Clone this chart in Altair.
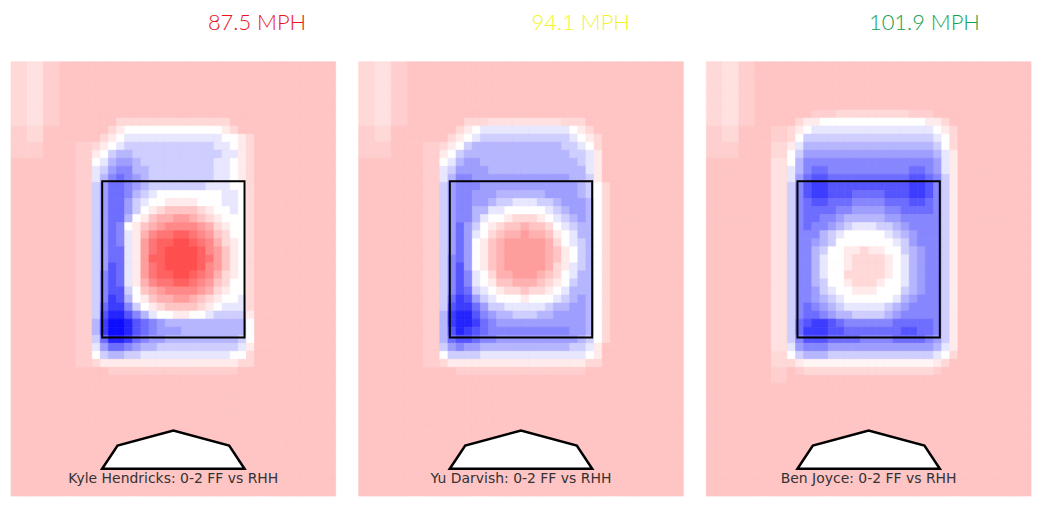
import altair as alt
import pandas as pd

# ---- data -------------------------------------------------------------
pitchers = ["Kyle Hendricks", "Yu Darvish", "Ben Joyce"]
speeds = ["87.5 MPH", "94.1 MPH", "101.9 MPH"]
speed_colors = ["#e8141e", "#f4f41e", "#16a04e"]
captions = [p + ": 0-2 FF vs RHH" for p in pitchers]
title_dx = [84, 60, 56]

# background value grid, 27 rows x 20 cols (top->bottom); -10 deep blue, 0 white, +10 deep red
bg_12 = [
    [2,1.5,2.5,3,3,3,3,3,3,3,3,3,3,3,3,3,3,3,3,3],
    [2,1.5,2.5,3,3,3,3,3,3,3,3,3,3,3,3,3,3,3,3,3],
    [2,1.5,2.5,3,3,3,3,3,3,3,3,3,3,3,3,3,3,3,3,3],
    [2,1.5,2.5,3,3,3,3,3,3,3,3,3,3,3,3,3,3,3,3,3],
    [2.5,2,3,3,3,3,3,3,3,3,3,3,3,3,3,3,3,3,3,3],
    [2.5,2.5,3,3,2.5,3,3,3,3,3,3,3,3,3,3,3,3,3,3,3],
    [3,3,3,3,2.5,3,3,3,3,3,3,3,3,3,3,3,3,3,3,3],
    [3,3,3,3,2.5,3,3,3,3,3,3,3,3,3,3,3,3,3,3,3],
    [3,3,3,3,2.5,3,3,3,3,3,3,3,3,3,3,3,3,3,3,3],
    [3,3,3,3,2.5,3,3,3,3,3,3,3,3,3,3,3,3,3,3,3],
    [3,3,3,3,2.5,3,3,3,3,3,3,3,3,3,3,3,3,3,3,3],
    [3,3,3,3,2.5,3,3,3,3,3,3,3,3,3,3,3,3,3,3,3],
    [3,3,3,3,2.5,3,3,3,3,3,3,3,3,3,3,3,3,3,3,3],
    [3,3,3,3,2.5,3,3,3,3,3,3,3,3,3,3,3,3,3,3,3],
    [3,3,3,3,2.5,3,3,3,3,3,3,3,3,3,3,3,3,3,3,3],
    [3,3,3,3,2.5,3,3,3,3,3,3,3,3,3,3,3,3,3,3,3],
    [3,3,3,3,2.5,3,3,3,3,3,3,3,3,3,3,3,3,3,3,3],
    [3,3,3,3,2.5,3,3,3,3,3,3,3,3,3,3,3,3,3,3,3],
    [3,3,3,3,2.5,3,3,3,3,3,3,3,3,3,3,3,3,3,3,3],
    [3,3,3,3,3,3,3,3,3,3,3,3,3,3,3,3,3,3,3,3],
    [3,3,3,3,3,3,3,3,3,3,3,3,3,3,3,3,3,3,3,3],
    [3,3,3,3,3,3,3,3,3,3,3,3,3,3,3,3,3,3,3,3],
    [3,3,3,3,3,3,3,3,3,3,3,3,3,3,3,3,3,3,3,3],
    [3,3,3,3,3,3,3,3,3,3,3,3,3,3,3,3,3,3,3,3],
    [3,3,3,3,3,3,3,3,3,3,3,3,3,3,3,3,3,3,3,3],
    [3,3,3,3,3,3,3,3,3,3,3,3,3,3,3,3,3,3,3,3],
    [3,3,3,3,3,3,3,3,3,3,3,3,3,3,3,3,3,3,3,3],
]
bg_3 = [
    [2,1.5,2.5,3,3,3,3,3,3,3,3,3,3,3,3,3,3,3,3,3],
    [2,1.5,2.5,3,3,3,3,3,3,3,3,3,3,3,3,3,3,3,3,3],
    [2,1.5,2.5,3,3,3,3,3,3,3,3,3,3,3,3,3,3,3,3,3],
    [2,1.5,2.5,3,3,3,3,3,3,3,3,3,3,3,3,3,3,3,3,3],
    [2.5,2,3,3,2.5,3,3,3,3,3,3,3,3,3,3,3,3,3,3,3],
    [2.5,2.5,3,3,2,3,3,3,3,3,3,3,3,3,3,3,3,3,3,3],
    [3,3,3,3,1.5,3,3,3,3,3,3,3,3,3,3,3,3,3,3,3],
    [3,3,3,3,1.5,3,3,3,3,3,3,3,3,3,3,3,3,3,3,3],
    [3,3,3,3,1.5,3,3,3,3,3,3,3,3,3,3,3,3,3,3,3],
    [3,3,3,3,1.5,3,3,3,3,3,3,3,3,3,3,3,3,3,3,3],
    [3,3,3,3,1.5,3,3,3,3,3,3,3,3,3,3,3,3,3,3,3],
    [3,3,3,3,1.5,3,3,3,3,3,3,3,3,3,3,3,3,3,3,3],
    [3,3,3,3,1.5,3,3,3,3,3,3,3,3,3,3,3,3,3,3,3],
    [3,3,3,3,1.5,3,3,3,3,3,3,3,3,3,3,3,3,3,3,3],
    [3,3,3,3,1.5,3,3,3,3,3,3,3,3,3,3,3,3,3,3,3],
    [3,3,3,3,1.5,3,3,3,3,3,3,3,3,3,3,3,3,3,3,3],
    [3,3,3,3,1.5,3,3,3,3,3,3,3,3,3,3,3,3,3,3,3],
    [3,3,3,3,1.5,3,3,3,3,3,3,3,3,3,3,3,3,3,3,3],
    [3,3,3,3,2,3,3,3,3,3,3,3,3,3,3,3,3,3,3,3],
    [3,3,3,3,2.5,3,3,3,3,3,3,3,3,3,3,3,3,3,3,3],
    [3,3,3,3,3,3,3,3,3,3,3,3,3,3,3,3,3,3,3,3],
    [3,3,3,3,3,3,3,3,3,3,3,3,3,3,3,3,3,3,3,3],
    [3,3,3,3,3,3,3,3,3,3,3,3,3,3,3,3,3,3,3,3],
    [3,3,3,3,3,3,3,3,3,3,3,3,3,3,3,3,3,3,3,3],
    [3,3,3,3,3,3,3,3,3,3,3,3,3,3,3,3,3,3,3,3],
    [3,3,3,3,3,3,3,3,3,3,3,3,3,3,3,3,3,3,3,3],
    [3,3,3,3,3,3,3,3,3,3,3,3,3,3,3,3,3,3,3,3],
]

# fine value grid around the zone (34 rows x 22 cols, half-size cells)
fine_hendricks = [
    [3,3,3,3,3,3,3,3,3,3,3,3,3,3,3,3,3,3,3,3,3,3],
    [3,3,3,2,2,2,2,2,2,2,2,2,2,2,2,2,2,3,3,3,3,3],
    [3,3,2,1,0,0,0,0,0,0,0,0,0,0,0,0,1,2,3,3,3,3],
    [3,2,1,0,-1,-1,-1,-1,-1,-1,-1,-1,-1,-1,-1,-1,0,0,1,2,3,3],
    [2,1,0,-1,-2,-2,-2,-2,-2,-2,-2,-2,-2,-2,-2,-1,-1,0,1,2,3,3],
    [1,0,-2,-3,-3,-2,-2,-2,-2,-2,-2,-2,-2,-2,-2,-2,-1,-1,1,2,3,3],
    [0,-1,-3,-4,-4,-3,-2,-2,-2,-2,-2,-2,-2,-2,-2,-1,-1,0,1,2,3,3],
    [-1,-2,-4,-5,-5,-3,-3,-2,-2,-2,-2,-2,-2,-2,-2,-1,-1,0,1,2,3,3],
    [-1,-3,-5,-6,-5,-4,-3,-2,-2,-2,-2,-2,-2,-2,-2,-1,-1,0,1,2,3,3],
    [-2,-4,-6,-6,-5,-4,-3,-2,-2,-2,-2,-2,-2,-2,-1,-1,-1,0,0,2,3,3],
    [-2,-4,-6,-6,-5,-3,-2,-1,0,0,0,0,0,0,0,0,-1,-1,0,2,3,3],
    [-2,-4,-6,-6,-4,-2,-1,0,0,1,1,1,1,0,0,0,-1,-1,0,2,3,3],
    [-2,-4,-6,-6,-4,-2,0,1,2,3,3,3,3,2,1,0,0,-1,0,2,3,3],
    [-2,-4,-6,-6,-3,0,1,3,4,4,5,5,4,3,2,1,0,0,0,2,3,3],
    [-2,-4,-6,-5,0,1,3,4,5,6,6,6,6,5,4,2,1,0,0,2,3,3],
    [-2,-4,-6,-5,-1,1,4,6,7,7,8,8,7,6,5,3,2,0,0,2,3,3],
    [-2,-4,-6,-5,-1,1,5,7,8,8,9,9,8,7,6,4,2,1,0,2,3,3],
    [-2,-4,-6,-6,-1,1,5,7,8,9,9,9,9,8,6,5,3,1,0,2,3,3],
    [-2,-4,-6,-6,-1,1,5,8,8,9,9,9,9,8,7,5,3,1,0,2,3,3],
    [-2,-4,-7,-6,-1,1,5,7,8,9,9,9,9,8,6,5,3,1,0,2,3,3],
    [-2,-5,-7,-6,-1,1,5,7,8,8,9,9,8,7,6,4,2,1,0,2,3,3],
    [-2,-5,-7,-6,-1,1,4,6,7,7,8,8,7,6,5,3,2,0,0,2,3,3],
    [-2,-5,-7,-7,-2,0,3,4,5,6,6,6,6,5,4,2,1,0,0,2,3,3],
    [-2,-5,-8,-7,-3,0,1,3,4,4,5,5,4,3,2,1,0,0,-1,2,3,3],
    [-2,-6,-8,-8,-5,-2,0,1,2,3,3,3,3,2,1,0,-1,-1,-1,2,3,3],
    [-2,-7,-9,-9,-7,-5,-3,-1,0,0,1,1,0,0,-1,-2,-2,-2,-2,1,3,3],
    [-3,-8,-10,-10,-9,-7,-6,-5,-4,-3,-3,-3,-3,-3,-3,-3,-3,-3,-3,0,3,3],
    [-3,-8,-10,-10,-9,-7,-6,-5,-4,-4,-4,-3,-3,-3,-3,-3,-3,-3,-3,0,3,3],
    [-2,-6,-9,-9,-8,-6,-5,-4,-4,-3,-3,-3,-3,-3,-3,-3,-3,-3,-2,0,3,3],
    [-1,-4,-6,-6,-5,-4,-3,-3,-2,-2,-2,-2,-2,-2,-2,-2,-2,-2,-1,1,3,3],
    [0,-2,-3,-3,-2,-2,-1,-1,-1,-1,-1,-1,-1,-1,-1,-1,-1,0,0,2,3,3],
    [2,1,1,1,1,1,1,1,1,1,1,1,1,1,1,1,1,1,2,2,3,3],
    [3,3,2.5,2.5,2.5,2.5,2.5,2.5,2.5,2.5,2.5,2.5,2.5,2.5,2.5,2.5,2.5,2.5,3,3,3,3],
    [3,3,3,3,3,3,3,3,3,3,3,3,3,3,3,3,3,3,3,3,3,3],
]

fine_darvish = [
    [3,3,3,3,3,3,3,3,3,3,3,3,3,3,3,3,3,3,3,3,3,3],
    [3,3,3,2,2,2,1.5,1.5,1.5,1.5,1.5,1.5,1.5,1.5,1.5,2,2,2,3,3,3,3],
    [3,3,2,1,0,-1,-1,-1,-1,-1,-1,-1,-1,-1,-1,-1,0,1,2,3,3,3],
    [3,2,1,0,-1,-2,-2,-2,-2,-2,-2,-2,-2,-2,-2,-2,-1,0,1,2,3,3],
    [2,1,0,-2,-3,-3,-3,-3,-3,-3,-3,-3,-3,-3,-3,-2,-2,-1,0,2,3,3],
    [1,0,-2,-3,-3,-3,-3,-3,-3,-3,-3,-3,-3,-3,-3,-3,-2,-2,-1,1,3,3],
    [0,-1,-3,-4,-4,-3,-3,-3,-3,-3,-3,-3,-3,-3,-3,-3,-3,-2,-1,1,3,3],
    [-1,-2,-4,-4,-4,-4,-3,-3,-3,-3,-3,-3,-3,-3,-3,-3,-3,-3,-1,1,3,3],
    [-1,-3,-5,-5,-4,-4,-4,-4,-4,-4,-4,-4,-4,-4,-4,-4,-3,-3,-2,1,3,3],
    [-2,-4,-5,-5,-5,-4,-4,-4,-4,-4,-4,-4,-4,-4,-4,-4,-4,-3,-2,0,2,3],
    [-2,-4,-5,-5,-4,-4,-4,-3,-3,-3,-3,-3,-3,-4,-4,-4,-4,-3,-2,0,2,3],
    [-2,-4,-5,-5,-4,-4,-3,-2,-2,-1,-1,-1,-2,-2,-3,-4,-4,-4,-3,0,2,3],
    [-2,-4,-5,-5,-3,-3,-1,-1,0,0,0,0,0,-1,-2,-3,-4,-4,-3,0,2,3],
    [-2,-4,-5,-5,-3,-1,0,0,1,2,2,2,1,0,-1,-2,-3,-4,-3,0,2,3],
    [-2,-4,-6,-4,-2,0,1,2,3,3,4,3,3,2,0,-1,-2,-3,-3,0,2,3],
    [-2,-4,-6,-4,-1,0,2,3,4,4,5,4,4,3,1,0,-1,-3,-3,0,2,3],
    [-2,-4,-6,-4,0,1,3,4,5,5,5,5,5,4,2,0,-1,-2,-3,0,2,3],
    [-2,-4,-6,-4,0,1,3,4,5,5,5,5,5,4,3,1,0,-2,-3,0,2,3],
    [-2,-5,-6,-4,0,1,3,4,5,5,5,5,5,4,3,1,0,-2,-3,0,2,3],
    [-2,-5,-7,-4,0,1,3,4,5,5,5,5,5,4,2,1,-1,-2,-3,0,2,3],
    [-2,-5,-7,-5,-1,0,2,4,4,5,5,5,4,3,2,0,-1,-3,-3,0,2,3],
    [-2,-5,-7,-5,-1,0,1,3,3,4,4,4,3,2,1,0,-2,-3,-3,0,2,3],
    [-2,-5,-7,-6,-2,-1,0,1,2,2,3,2,2,1,0,-1,-3,-3,-3,0,2,3],
    [-2,-6,-8,-7,-4,-2,-1,0,0,0,1,0,0,0,-1,-2,-3,-4,-3,0,2,3],
    [-2,-7,-8,-8,-6,-4,-2,-2,-1,-1,-1,-1,-1,-2,-3,-3,-4,-4,-3,0,2,3],
    [-3,-8,-9,-9,-7,-5,-4,-3,-3,-2,-2,-2,-3,-3,-4,-4,-4,-4,-3,0,2,3],
    [-3,-8,-9,-9,-8,-6,-5,-4,-4,-4,-4,-4,-4,-4,-4,-4,-4,-4,-3,0,2,3],
    [-3,-7,-9,-8,-7,-6,-5,-5,-5,-5,-5,-5,-5,-5,-5,-5,-4,-4,-3,0,2,3],
    [-3,-6,-7,-7,-6,-5,-5,-4,-4,-4,-4,-4,-4,-4,-4,-4,-4,-3,-2,0,2,3],
    [-2,-4,-5,-4,-4,-3,-3,-3,-3,-3,-3,-3,-3,-3,-3,-3,-2,-2,-1,1,3,3],
    [0,-2,-2,-2,-2,-1,-1,-1,-1,-1,-1,-1,-1,-1,-1,-1,-1,-1,0,1,3,3],
    [2,1,1,1,1,1,1,1,1,1,1,1,1,1,1,1,1,1,2,2,3,3],
    [3,3,2.5,2.5,2.5,2.5,2.5,2.5,2.5,2.5,2.5,2.5,2.5,2.5,2.5,2.5,2.5,2.5,3,3,3,3],
    [3,3,3,3,3,3,3,3,3,3,3,3,3,3,3,3,3,3,3,3,3,3],
]

fine_joyce = [
    [3,3,3,2.5,2.5,2.5,2,2,2,2,2,2,2,2,2,2.5,2.5,2.5,3,3,3,3],
    [3,2,1,1,0,0,0,0,0,0,0,0,0,0,0,0,0,1,1,2,3,3],
    [2,1,0,-1,-1,-1,-1,-1,-1,-1,-1,-1,-1,-1,-1,-1,-1,-1,0,1,2,3],
    [2,0,-2,-2,-2,-2,-2,-2,-2,-2,-2,-2,-2,-2,-2,-2,-2,-2,-1,0,2,3],
    [1,-1,-3,-3,-3,-3,-3,-3,-3,-3,-3,-3,-3,-3,-3,-3,-3,-3,-2,0,2,3],
    [0,-2,-4,-4,-4,-4,-4,-4,-4,-4,-4,-4,-4,-4,-4,-4,-4,-4,-3,-1,1,3],
    [0,-3,-5,-5,-5,-5,-5,-5,-5,-5,-5,-5,-5,-5,-5,-5,-5,-5,-4,-1,1,3],
    [-1,-3,-5,-6,-6,-5,-5,-5,-5,-5,-5,-5,-5,-5,-5,-6,-6,-5,-4,-1,1,3],
    [-1,-4,-6,-7,-7,-6,-6,-6,-6,-6,-6,-6,-6,-6,-6,-7,-7,-6,-5,-2,1,3],
    [-2,-5,-7,-8,-8,-7,-7,-7,-7,-7,-7,-7,-7,-7,-7,-8,-8,-7,-5,-2,1,3],
    [-2,-5,-7,-8,-8,-7,-7,-7,-6,-6,-6,-6,-7,-7,-7,-8,-8,-7,-5,-2,1,3],
    [-2,-5,-6,-7,-7,-6,-6,-6,-5,-5,-5,-5,-6,-6,-6,-7,-7,-6,-5,-2,1,3],
    [-2,-5,-6,-6,-6,-6,-5,-5,-4,-4,-4,-4,-5,-5,-6,-6,-6,-6,-5,-2,1,3],
    [-2,-5,-6,-6,-5,-5,-4,-3,-3,-3,-3,-3,-4,-4,-5,-5,-5,-5,-5,-2,1,3],
    [-2,-5,-6,-5,-5,-4,-3,-2,-1,-1,-1,-2,-2,-3,-4,-5,-5,-5,-5,-2,1,3],
    [-2,-5,-5,-5,-3,-2,-1,0,0,0,0,0,-1,-2,-3,-4,-5,-5,-5,-2,1,3],
    [-2,-5,-5,-4,-3,-2,0,0,0,0,0,0,0,-1,-2,-4,-5,-5,-5,-2,1,3],
    [-2,-5,-5,-3,-2,0,0,1,1,2,1,1,0,0,-2,-3,-4,-5,-5,-2,1,3],
    [-2,-5,-5,-3,-1,0,0,1,2,2,2,2,1,0,-1,-3,-4,-5,-5,-2,1,3],
    [-2,-5,-5,-3,-1,0,0,1,2,2,2,2,1,0,-1,-3,-4,-5,-5,-2,1,3],
    [-2,-5,-5,-3,-1,0,0,2,2,2,2,2,1,0,-1,-3,-4,-5,-5,-2,1,3],
    [-2,-5,-5,-3,-2,0,0,1,2,2,2,1,0,0,-1,-3,-4,-5,-5,-2,1,3],
    [-2,-5,-5,-4,-2,-1,0,0,1,1,1,0,0,0,-2,-3,-4,-5,-5,-2,1,3],
    [-2,-5,-5,-4,-3,-2,-1,0,0,0,0,0,0,-1,-3,-4,-5,-5,-5,-2,1,3],
    [-2,-5,-6,-5,-4,-3,-2,-1,-1,-1,-1,-1,-2,-3,-4,-5,-5,-5,-5,-2,1,3],
    [-2,-5,-6,-6,-5,-4,-3,-3,-2,-2,-2,-2,-3,-4,-5,-5,-5,-5,-5,-2,1,3],
    [-2,-6,-7,-8,-8,-7,-6,-5,-5,-5,-5,-5,-5,-6,-6,-6,-6,-6,-5,-2,1,3],
    [-2,-6,-8,-8,-8,-7,-7,-6,-6,-6,-6,-6,-6,-6,-7,-7,-6,-6,-5,-2,1,3],
    [-2,-5,-7,-7,-7,-6,-6,-6,-6,-5,-5,-5,-5,-6,-6,-6,-6,-5,-4,-2,1,3],
    [-1,-4,-5,-5,-5,-4,-4,-4,-4,-4,-4,-4,-4,-4,-4,-4,-4,-4,-3,-1,1,3],
    [0,-2,-3,-3,-3,-2,-2,-2,-2,-2,-2,-2,-2,-2,-2,-2,-2,-2,-1,0,2,3],
    [2,1,0.5,0.5,0.5,0.5,0.5,0.5,0.5,0.5,0.5,0.5,0.5,0.5,0.5,0.5,0.5,0.5,1,2,3,3],
    [3,2.5,2,2,2,2,2,2,2,2,2,2,2,2,2,2,2,2,2.5,3,3,3],
    [3,3,3,3,3,3,3,3,3,3,3,3,3,3,3,3,3,3,3,3,3,3],
]

bg_grids = [bg_12, bg_12, bg_3]
fine_grids = [fine_hendricks, fine_darvish, fine_joyce]

# strike zone (ft) and home plate outline (ft)
zone_x = [-0.708, 0.708]
zone_y = [1.5, 3.5]
plate_x = [-0.708, -0.555, 0.0, 0.555, 0.708]
plate_y = [-0.18, 0.115, 0.31, 0.115, -0.18]
plate_base = -0.18
caption_y = -0.36

# view extent (ft)
X_DOM = [-1.615, 1.615]
Y_DOM = [-0.53, 5.03]
W, H = 326, 436
FINE_COL0, FINE_ROW0 = 10, 6   # fine grid offset, in half-cells

xs = alt.Scale(domain=X_DOM, nice=False, zero=False)
ys = alt.Scale(domain=Y_DOM, nice=False, zero=False)
cscale = alt.Scale(domain=[-10, 0, 10], range=["#0c0cff", "#ffffff", "#ff3a3a"], interpolate="rgb")


def cells(grid, ncols_total, nrows_total, c0=0, r0=0):
    dx = (X_DOM[1] - X_DOM[0]) / ncols_total
    dy = (Y_DOM[1] - Y_DOM[0]) / nrows_total
    out = []
    for r, row in enumerate(grid):
        for c, v in enumerate(row):
            out.append({
                "x0": X_DOM[0] + (c0 + c) * dx, "x1": X_DOM[0] + (c0 + c + 1) * dx,
                "y1": Y_DOM[1] - (r0 + r) * dy, "y0": Y_DOM[1] - (r0 + r + 1) * dy,
                "v": v,
            })
    return out


def panel(i):
    rows = cells(bg_grids[i], 20, 27) + cells(fine_grids[i], 40, 54, FINE_COL0, FINE_ROW0)
    heat = alt.Chart(pd.DataFrame(rows)).mark_rect(strokeWidth=0.6).encode(
        x=alt.X("x0:Q", scale=xs, axis=None),
        x2="x1",
        y=alt.Y("y0:Q", scale=ys, axis=None),
        y2="y1",
        color=alt.Color("v:Q", scale=cscale, legend=None),
        stroke=alt.Stroke("v:Q", scale=cscale, legend=None),
    )
    zone = alt.Chart(pd.DataFrame({"x": [zone_x[0]], "x2": [zone_x[1]],
                                   "y": [zone_y[0]], "y2": [zone_y[1]]})).mark_rect(
        filled=False, stroke="black", strokeWidth=2
    ).encode(x=alt.X("x:Q", scale=xs), x2="x2", y=alt.Y("y:Q", scale=ys), y2="y2")
    plate = alt.Chart(pd.DataFrame({"x": plate_x, "y": plate_y,
                                    "b": [plate_base] * len(plate_x)})).mark_area(
        fill="white", stroke="black", strokeWidth=2.5, interpolate="linear", strokeJoin="miter"
    ).encode(x=alt.X("x:Q", scale=xs), y=alt.Y("y:Q", scale=ys), y2="b")
    cap = alt.Chart(pd.DataFrame({"x": [0.0], "y": [caption_y], "t": [captions[i]]})).mark_text(
        font="DejaVu Sans", fontSize=14, color="#333333", baseline="alphabetic", align="center"
    ).encode(x=alt.X("x:Q", scale=xs), y=alt.Y("y:Q", scale=ys), text="t:N")
    return alt.layer(heat, zone, plate, cap).properties(
        width=W, height=H,
        title=alt.TitleParams(speeds[i], color=speed_colors[i], fontSize=22, font="Lato",
                              fontWeight=300, anchor="middle", dx=title_dx[i],
                              baseline="alphabetic", offset=10),
    )


chart = alt.hconcat(panel(0), panel(1), panel(2), spacing=21).properties(
    padding={"left": 2, "top": 2, "right": 0, "bottom": 0}
).configure_view(strokeWidth=0).resolve_scale(color="independent", stroke="independent")

chart.save("out.html", embed_options={"renderer": "svg", "actions": False})
